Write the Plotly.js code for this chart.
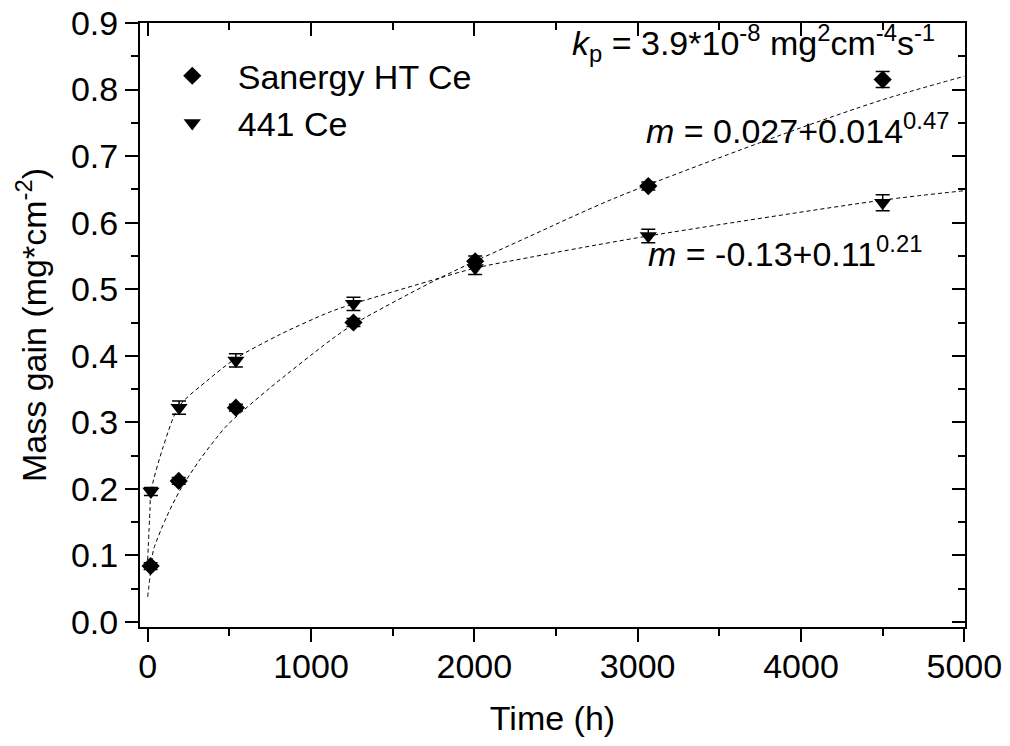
<!DOCTYPE html>
<html>
<head>
<meta charset="utf-8">
<script src="https://cdn.plot.ly/plotly-3.0.1.min.js"></script>
<style>html,body{margin:0;padding:0;background:#fff;}#chart{width:1010px;height:746px;}</style>
</head>
<body>
<div id="chart"></div>
<script>
// Measured data (Sanergy HT Ce, diamonds)
var timeSanergy = [18, 190, 540, 1260, 2005, 3065, 4500];
var massSanergy = [0.084, 0.212, 0.322, 0.450, 0.542, 0.655, 0.815];
var errSanergy  = [0.005, 0.005, 0.005, 0.006, 0.008, 0.006, 0.012];

// Measured data (441 Ce, triangles)
var time441 = [20, 192, 540, 1260, 2005, 3065, 4500];
var mass441 = [0.196, 0.322, 0.393, 0.478, 0.532, 0.580, 0.630];
var err441  = [0.006, 0.010, 0.010, 0.010, 0.010, 0.010, 0.012];

// Fit curves
var fitTimeSanergy = [0, 24, 35, 116, 198, 320, 473, 540, 750, 1117, 1259, 1790, 2343, 2861, 3891, 4504, 5000];
var fitMassSanergy = [0.038, 0.088, 0.108, 0.158, 0.198, 0.244, 0.292, 0.308, 0.352, 0.423, 0.447, 0.517, 0.580, 0.637, 0.733, 0.785, 0.820];
var fitTime441 = [0, 14, 20, 96, 192, 361, 540, 810, 1117, 1259, 1790, 2008, 2343, 2647, 3065, 4504, 5000];
var fitMass441 = [0.093, 0.168, 0.196, 0.264, 0.324, 0.362, 0.396, 0.432, 0.466, 0.478, 0.517, 0.532, 0.548, 0.562, 0.580, 0.634, 0.648];

var seriesNames = ['Sanergy HT Ce', '441 Ce'];

var FONT = 'Liberation Sans, Arial, sans-serif';
var xRange = [-47, 5004];
var yRange = [-0.0075, 0.9];

var traces = [
  {x: fitTimeSanergy, y: fitMassSanergy, mode: 'lines', line: {color: '#000', width: 1, dash: '4px,3px', shape: 'spline', smoothing: 0.8}, showlegend: false, hoverinfo: 'skip'},
  {x: fitTime441, y: fitMass441, mode: 'lines', line: {color: '#000', width: 1, dash: '4px,3px', shape: 'spline', smoothing: 0.8}, showlegend: false, hoverinfo: 'skip'},
  {x: timeSanergy, y: massSanergy, name: seriesNames[0], mode: 'markers', type: 'scatter',
   marker: {symbol: 'diamond', size: 14, color: '#000'},
   error_y: {type: 'data', array: errSanergy, visible: true, color: '#000', thickness: 1.5, width: 7}},
  {x: time441, y: mass441, name: seriesNames[1], mode: 'markers', type: 'scatter',
   marker: {symbol: 'triangle-down', size: 15, color: '#000'},
   error_y: {type: 'data', array: err441, visible: true, color: '#000', thickness: 1.5, width: 7}},
  {x: [], y: [], xaxis: 'x2', yaxis: 'y2', showlegend: false, mode: 'markers'}
];

var layout = {
  width: 1010, height: 746,
  margin: {l: 140, r: 45, t: 23, b: 119, pad: 0},
  paper_bgcolor: '#fff', plot_bgcolor: '#fff',
  font: {family: FONT, size: 34, color: '#000'},
  showlegend: true,
  legend: {x: 0.0082, y: 0.96, xanchor: 'left', yanchor: 'top', bgcolor: 'rgba(0,0,0,0)', font: {family: FONT, size: 34, color: '#000'}, itemwidth: 81, tracegroupgap: 0},
  xaxis: {
    range: xRange, showgrid: false, zeroline: false, showline: true, linecolor: '#000', linewidth: 2,
    ticks: 'outside', ticklen: 13, tickwidth: 2, tickcolor: '#000', dtick: 1000, tick0: 0,
    ticklabelstandoff: -5,
    minor: {dtick: 500, ticks: 'outside', ticklen: 7, tickwidth: 2, tickcolor: '#000', showgrid: false},
    tickfont: {family: FONT, size: 34, color: '#000'},
    title: {text: 'Time (h)', font: {family: FONT, size: 34, color: '#000'}, standoff: 22}
  },
  yaxis: {
    range: yRange, showgrid: false, zeroline: false, showline: true, linecolor: '#000', linewidth: 2,
    ticks: 'outside', ticklen: 13, tickwidth: 2, tickcolor: '#000', dtick: 0.1, tick0: 0, tickformat: '.1f',
    minor: {dtick: 0.05, ticks: 'outside', ticklen: 7, tickwidth: 2, tickcolor: '#000', showgrid: false},
    tickfont: {family: FONT, size: 34, color: '#000'},
    title: {text: 'Mass gain (mg*cm<sup>-2</sup>)', font: {family: FONT, size: 34, color: '#000'}, standoff: 14}
  },
  xaxis2: {
    overlaying: 'x', side: 'top', anchor: 'y2', range: xRange, showgrid: false, zeroline: false,
    showline: true, linecolor: '#000', linewidth: 2, showticklabels: false,
    ticks: 'inside', ticklen: 13, tickwidth: 2, tickcolor: '#000', dtick: 1000, tick0: 0,
    minor: {dtick: 500, ticks: 'inside', ticklen: 7, tickwidth: 2, tickcolor: '#000', showgrid: false}
  },
  yaxis2: {
    overlaying: 'y', side: 'right', anchor: 'x2', range: yRange, showgrid: false, zeroline: false,
    showline: true, linecolor: '#000', linewidth: 2, showticklabels: false,
    ticks: 'inside', ticklen: 13, tickwidth: 2, tickcolor: '#000', dtick: 0.1, tick0: 0,
    minor: {dtick: 0.05, ticks: 'inside', ticklen: 7, tickwidth: 2, tickcolor: '#000', showgrid: false}
  },
  annotations: [
    {x: 2586, y: 0.870, xref: 'x', yref: 'y', xanchor: 'left', yanchor: 'middle', showarrow: false,
     text: '<i>k</i><sub>p</sub> = 3.9*10<sup>-8</sup> mg<sup>2</sup>cm<sup>-4</sup>s<sup>-1</sup>', font: {family: FONT, size: 34, color: '#000'}},
    {x: 3040, y: 0.741, xref: 'x', yref: 'y', xanchor: 'left', yanchor: 'middle', showarrow: false,
     text: '<i>m</i> = 0.027+0.014<sup>0.47</sup>', font: {family: FONT, size: 34, color: '#000'}},
    {x: 3050, y: 0.556, xref: 'x', yref: 'y', xanchor: 'left', yanchor: 'middle', showarrow: false,
     text: '<i>m</i> = -0.13+0.11<sup>0.21</sup>', font: {family: FONT, size: 34, color: '#000'}}
  ]
};

Plotly.newPlot('chart', traces, layout, {staticPlot: true, displayModeBar: false});
</script>
</body>
</html>
